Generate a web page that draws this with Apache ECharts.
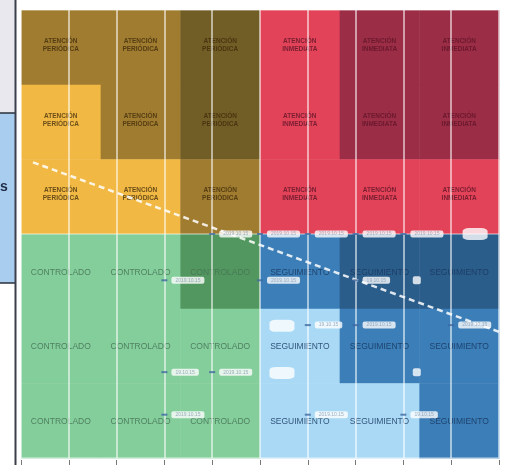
<!DOCTYPE html>
<html><head><meta charset="utf-8">
<script src="https://cdn.jsdelivr.net/npm/echarts@6/dist/echarts.min.js"></script>
<style>html,body{margin:0;padding:0;background:#fff;}#c{width:505px;height:465px;}</style>
</head><body><div id="c"></div>
<script>
// ---- data ----
const zoneLabels = ['ATENCIÓN\nPERIÓDICA', 'ATENCIÓN\nINMEDIATA', 'CONTROLADO', 'SEGUIMIENTO'];
// tone of each cell, rows listed top to bottom, columns left to right
const cellTones = [
  ['olive', 'olive', 'darkOlive', 'red', 'maroon', 'maroon'],
  ['yellow', 'olive', 'darkOlive', 'red', 'maroon', 'maroon'],
  ['yellow', 'yellow', 'olive', 'red', 'red', 'red'],
  ['green', 'green', 'darkGreen', 'blue', 'navy', 'navy'],
  ['green', 'green', 'green', 'lightBlue', 'blue', 'blue'],
  ['green', 'green', 'green', 'lightBlue', 'lightBlue', 'blue']
];
// trend line (x on 0-10 scale, y on 0-6 scale)
const trendX = [0.25, 10];
const trendY = [3.96, 1.69];
// tagged points
const tagX = [4, 5, 6, 7, 8, 3, 5, 7, 6, 7, 9, 3, 4, 3, 6, 8];
const tagY = [3.0, 3.0, 3.0, 3.0, 3.0, 2.38, 2.38, 2.38, 1.78, 1.78, 1.78, 1.15, 1.15, 0.58, 0.58, 0.58];
const tagText = ['2019.10.15', '2019.10.15', '2019.10.15', '2019.10.15', '2019.10.15',
  '2019.10.15', '2019.10.15', '19.10.15', '19.10.15', '2019.10.15', '2019.10.15',
  '19.10.15', '2019.10.15', '2019.10.15', '2019.10.15', '19.10.15'];
// blank white tags and white dots
const blankX = [9.5, 5.46, 5.46];
const blankY = [3.0, 1.77, 1.14];
const dotX = [8.28, 8.28];
const dotY = [2.38, 1.15];

// ---- styles ----
const toneColors = {
  olive: '#A07C30', darkOlive: '#715D26', yellow: '#F1B944',
  red: '#E24358', maroon: '#9B2D46',
  green: '#84CE9C', darkGreen: '#52975F',
  blue: '#3B7EB8', navy: '#2B5D8B', lightBlue: '#A9D9F5'
};
const zoneText = ['rgba(60,40,10,0.75)', 'rgba(95,20,40,0.8)', 'rgba(70,115,85,0.85)', 'rgba(25,55,95,0.85)'];

const cellData = [];
cellTones.forEach((row, r) => {
  row.forEach((tone, c) => {
    const yFromBottom = 5 - r;
    const zone = (r < 3 ? 0 : 2) + (c < 3 ? 0 : 1);
    cellData.push([c, yFromBottom, tone, zone]);
  });
});

const chart = echarts.init(document.getElementById('c'), null, {renderer: 'canvas'});
chart.setOption({
  animation: false,
  backgroundColor: '#fff',
  grid: {left: 21, right: 6, top: 10, bottom: 7},
  xAxis: [
    {type: 'value', min: 0, max: 6, show: false},
    {type: 'value', min: 0, max: 10, interval: 1, position: 'bottom', offset: 2, z: 3,
      axisLine: {show: false}, axisLabel: {show: false},
      axisTick: {show: true, length: 5, lineStyle: {color: '#777', width: 1}},
      splitLine: {show: true, lineStyle: {color: 'rgba(255,255,255,0.55)', width: 2}}}
  ],
  yAxis: [{type: 'value', min: 0, max: 6, interval: 3, z: 3,
    axisLine: {show: false}, axisTick: {show: false}, axisLabel: {show: false},
    splitLine: {show: true, lineStyle: {color: 'rgba(255,255,255,0.45)', width: 1.5}}}],
  graphic: [
    {type: 'rect', shape: {x: 0, y: 0, width: 15, height: 113}, style: {fill: '#E8E8EE'}},
    {type: 'rect', shape: {x: 0, y: 113, width: 15, height: 170}, style: {fill: '#A9CDEF'}},
    {type: 'line', shape: {x1: 0, y1: 113, x2: 15, y2: 113}, style: {stroke: '#2a2f3a', lineWidth: 1.5}},
    {type: 'line', shape: {x1: 0, y1: 283, x2: 15, y2: 283}, style: {stroke: '#2a2f3a', lineWidth: 1.5}},
    {type: 'line', shape: {x1: 15.5, y1: 0, x2: 15.5, y2: 465}, style: {stroke: '#3a3f4a', lineWidth: 2}},
    {type: 'text', x: 0, y: 180, style: {text: 's', fill: '#1E2A44', fontSize: 14, fontWeight: 'bold', fontFamily: 'Liberation Sans'}}
  ],
  series: [
    {
      type: 'custom', xAxisIndex: 0, yAxisIndex: 0, z: 1, data: cellData,
      renderItem: function (params, api) {
        const c = api.value(0), y = api.value(1);
        const tone = cellTones[5 - y][c];
        const zone = api.value(3);
        const p0 = api.coord([c, y + 1]);
        const p1 = api.coord([c + 1, y]);
        const small = zone < 2;
        return {
          type: 'group',
          children: [
            {type: 'rect', shape: {x: p0[0], y: p0[1], width: p1[0] - p0[0] + 0.5, height: p1[1] - p0[1] + 0.5},
              style: {fill: toneColors[tone]}},
            {type: 'text', style: {
              text: zoneLabels[zone], x: (p0[0] + p1[0]) / 2, y: (p0[1] + p1[1]) / 2 + (small ? -2 : 1),
              align: 'center', verticalAlign: 'middle', fill: zoneText[zone],
              fontSize: small ? 6.5 : 8.5, lineHeight: small ? 8 : 10,
              fontWeight: small ? 'bold' : 'normal', fontFamily: 'Liberation Sans'}}
          ]
        };
      }
    },
    {
      type: 'line', xAxisIndex: 1, yAxisIndex: 0, z: 5, symbol: 'none',
      data: trendX.map((x, i) => [x, trendY[i]]),
      lineStyle: {color: 'rgba(255,255,255,0.85)', width: 2.5, type: [6, 4]}
    },
    {
      type: 'scatter', xAxisIndex: 1, yAxisIndex: 0, z: 6,
      symbol: 'rect', symbolSize: [6, 2], itemStyle: {color: '#3F68A0'},
      data: tagX.map((x, i) => [x, tagY[i], tagText[i]]),
      label: {show: true, position: 'right', distance: 4,
        formatter: p => p.value[2],
        backgroundColor: '#fff', borderRadius: 2, padding: [1, 4],
        fontSize: 5, color: '#8a9ab0', fontFamily: 'Liberation Sans'}
    },
    {
      type: 'scatter', xAxisIndex: 1, yAxisIndex: 0, z: 6,
      symbol: 'roundRect', symbolSize: [25, 12], itemStyle: {color: '#fff'},
      data: blankX.map((x, i) => [x, blankY[i]])
    },
    {
      type: 'scatter', xAxisIndex: 1, yAxisIndex: 0, z: 6,
      symbol: 'roundRect', symbolSize: 8, itemStyle: {color: '#fff'},
      data: dotX.map((x, i) => [x, dotY[i]])
    }
  ]
});
</script></body></html>
